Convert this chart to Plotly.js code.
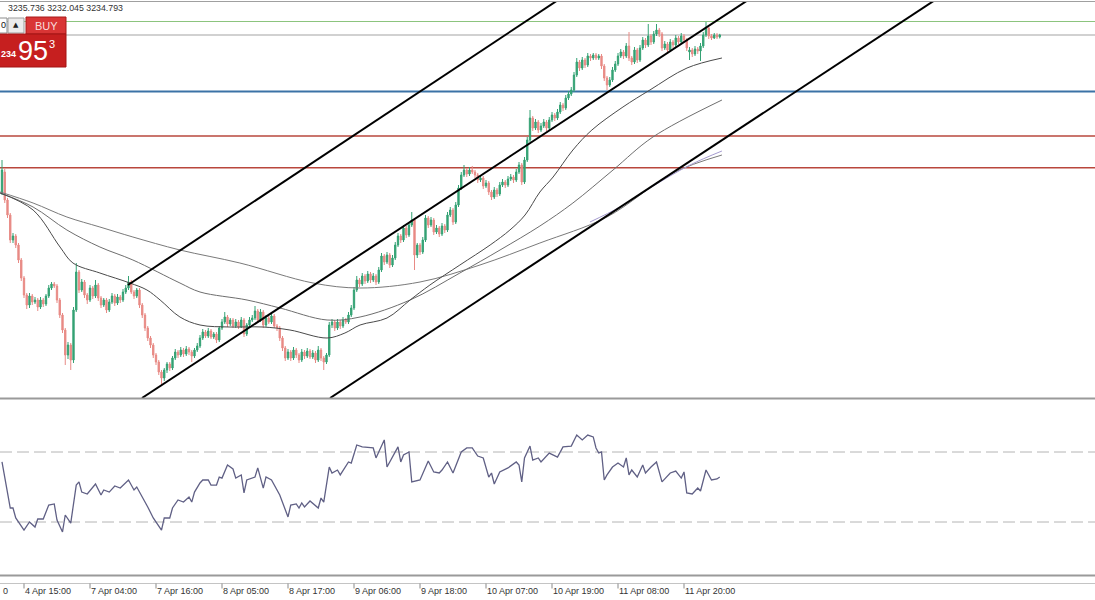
<!DOCTYPE html>
<html>
<head>
<meta charset="utf-8">
<script src="https://cdn.plot.ly/plotly-3.0.1.min.js"></script>
<style>html,body{margin:0;padding:0;background:#fff;}#chart{width:1095px;height:600px;}</style>
</head>
<body>
<div id="chart"></div>
<script>
// ---- DATA (XAUUSD M30, bar index 0..261) ----
const openP = [3108.4,3125.2,3102.8,3090.8,3070.8,3074.0,3066.8,3054.8,3040.4,3026.8,
3018.8,3026.0,3021.2,3022.8,3017.2,3022.8,3019.6,3026.0,3032.4,3035.6,
3034.0,3022.8,3010.8,2998.8,2978.8,2986.8,2974.8,3014.8,3045.2,3030.8,
3037.2,3026.8,3022.8,3032.4,3026.0,3034.8,3024.4,3018.8,3022.8,3014.8,
3021.2,3026.0,3020.4,3025.2,3022.8,3029.2,3032.4,3037.2,3029.2,3026.0,
3030.8,3018.8,3010.8,3000.4,2992.4,2986.8,2978.8,2973.2,2965.2,2960.4,
2966.8,2971.6,2968.4,2976.4,2981.2,2978.8,2982.8,2979.6,2983.6,2981.2,
2978.0,2982.8,2986.0,2992.4,2997.2,2994.0,2998.0,2993.2,2995.6,2990.8,
3000.4,3005.2,3009.2,3003.6,3006.8,3002.0,3005.2,3001.2,3006.8,2995.6,
3002.8,3006.8,3008.4,3014.0,3006.8,3013.2,3002.8,3008.4,3005.2,3010.0,
3002.0,3000.4,2992.4,2984.4,2976.4,2981.2,2976.4,2982.8,2978.8,2974.8,
2981.2,2978.0,2982.0,2977.2,2980.4,2974.8,2982.8,2976.4,2973.2,2978.8,
3002.8,3005.2,3000.4,3005.2,3002.0,3006.8,3005.2,3010.8,3016.4,3030.8,
3038.8,3035.6,3042.0,3038.0,3043.6,3038.8,3042.0,3037.2,3046.8,3058.0,
3053.2,3058.8,3050.8,3056.4,3066.8,3074.0,3070.8,3080.4,3074.8,3082.8,
3086.8,3058.8,3066.8,3061.2,3070.8,3088.4,3082.8,3086.8,3077.2,3080.4,
3075.6,3082.0,3078.8,3090.8,3094.8,3085.2,3098.8,3112.4,3122.8,3126.8,
3123.6,3126.8,3125.2,3122.8,3118.8,3120.4,3114.0,3116.4,3109.2,3105.2,
3110.8,3107.6,3114.8,3117.2,3114.8,3119.6,3121.2,3118.8,3125.2,3130.8,
3117.2,3134.8,3150.8,3168.4,3160.4,3165.2,3158.8,3162.0,3165.2,3160.4,
3166.8,3170.8,3168.4,3173.2,3178.8,3176.4,3184.4,3187.6,3190.8,3202.8,
3213.2,3208.4,3214.8,3210.8,3218.0,3216.4,3218.8,3216.4,3218.0,3210.0,
3200.4,3194.8,3198.8,3206.8,3211.6,3218.0,3221.2,3218.0,3226.0,3216.4,
3213.2,3222.8,3214.8,3224.4,3230.8,3226.8,3234.0,3229.2,3235.6,3238.8,
3235.6,3224.4,3227.6,3222.8,3229.2,3226.8,3232.4,3229.2,3234.0,3230.8,
3221.2,3222.8,3219.6,3223.6,3222.0,3226.0,3234.8,3240.4,3234.0,3232.4,
3234.8,3233.216];
const highP = [3134.8,3127.6,3104.4,3092.4,3076.4,3075.6,3068.4,3056.4,3042.0,3028.4,
3028.4,3027.6,3025.2,3024.4,3025.2,3024.4,3027.6,3034.8,3037.2,3037.2,
3035.6,3024.4,3012.4,3000.4,2989.2,2988.4,3017.2,3052.4,3046.8,3039.6,
3038.8,3028.4,3034.8,3034.0,3038.8,3036.4,3026.0,3024.4,3024.4,3023.6,
3028.4,3027.6,3027.6,3026.8,3031.6,3034.8,3042.0,3038.8,3030.8,3032.4,
3032.4,3020.4,3012.4,3002.0,2994.0,2988.4,2980.4,2974.8,2966.8,2968.4,
2973.2,2973.2,2978.0,2983.6,2982.8,2985.2,2984.4,2986.0,2985.2,2982.8,
2984.4,2988.4,2994.8,2999.6,2998.8,3000.4,2999.6,2997.2,2997.2,3002.0,
3007.6,3013.2,3010.8,3008.4,3008.4,3007.6,3006.8,3009.2,3008.4,3004.4,
3009.2,3010.8,3018.0,3015.6,3015.6,3014.8,3010.8,3010.0,3012.4,3011.6,
3003.6,3002.0,2994.0,2986.0,2983.6,2982.8,2985.2,2984.4,2980.4,2983.6,
2982.8,2984.4,2983.6,2982.8,2982.0,2986.0,2984.4,2978.0,2980.4,3005.2,
3007.6,3006.8,3007.6,3006.8,3009.2,3008.4,3013.2,3018.8,3033.2,3042.0,
3040.4,3044.4,3043.6,3046.0,3045.2,3044.4,3043.6,3049.2,3060.4,3059.6,
3061.2,3060.4,3058.8,3069.2,3076.4,3075.6,3082.8,3082.0,3085.2,3093.2,
3088.4,3068.4,3068.4,3073.2,3090.8,3090.0,3089.2,3088.4,3082.8,3082.0,
3084.4,3083.6,3093.2,3097.2,3096.4,3101.2,3114.8,3125.2,3130.8,3128.4,
3129.2,3130.0,3126.8,3124.4,3122.8,3122.0,3118.8,3118.0,3110.8,3113.2,
3112.4,3117.2,3119.6,3118.8,3122.0,3123.6,3122.8,3127.6,3133.2,3132.4,
3137.2,3153.2,3174.8,3170.0,3167.6,3166.8,3164.4,3167.6,3166.8,3169.2,
3173.2,3172.4,3175.6,3181.2,3180.4,3186.8,3190.0,3193.2,3205.2,3216.4,
3214.8,3217.2,3216.4,3220.4,3219.6,3220.4,3220.4,3219.6,3219.6,3211.6,
3202.0,3201.2,3209.2,3214.0,3220.4,3223.6,3222.8,3228.4,3237.2,3218.0,
3225.2,3224.4,3226.8,3233.2,3232.4,3243.6,3235.6,3238.0,3243.6,3240.4,
3237.2,3230.0,3229.2,3231.6,3230.8,3234.8,3234.0,3236.4,3235.6,3232.4,
3225.2,3224.4,3226.0,3225.2,3228.4,3237.2,3245.2,3241.2,3235.6,3236.4,
3236.4,3235.736];
const lowP = [3106.8,3100.4,3088.4,3068.4,3068.4,3064.4,3052.4,3038.0,3024.4,3015.6,
3016.4,3018.8,3019.6,3014.0,3015.6,3017.2,3018.0,3024.4,3030.8,3032.4,
3020.4,3008.4,2996.4,2970.8,2975.6,2966.8,2972.4,3013.2,3028.4,3029.2,
3024.4,3019.6,3021.2,3023.6,3024.4,3022.0,3016.4,3017.2,3012.4,3013.2,
3019.6,3018.0,3018.8,3020.4,3021.2,3027.6,3030.8,3027.6,3023.6,3024.4,
3016.4,3008.4,2998.0,2990.0,2984.4,2976.4,2970.8,2962.8,2954.8,2958.0,
2964.4,2966.0,2966.8,2974.8,2976.4,2977.2,2977.2,2978.0,2978.8,2973.2,
2976.4,2981.2,2984.4,2990.8,2992.4,2992.4,2991.6,2991.6,2988.4,2989.2,
2998.8,3003.6,3001.2,3002.0,3000.4,3000.4,2999.6,3000.4,2993.2,2994.0,
3001.2,3005.2,3006.8,3004.4,3005.2,3000.4,3001.2,3003.6,3003.6,3000.4,
2998.0,2990.0,2982.0,2974.0,2974.8,2974.0,2974.8,2976.4,2972.4,2973.2,
2975.6,2976.4,2975.6,2975.6,2972.4,2973.2,2974.0,2966.8,2971.6,2977.2,
3000.4,2998.0,2998.8,2999.6,3000.4,3003.6,3003.6,3009.2,3014.8,3029.2,
3033.2,3034.0,3035.6,3036.4,3036.4,3037.2,3034.8,3035.6,3045.2,3050.8,
3051.6,3048.4,3049.2,3054.8,3065.2,3068.4,3069.2,3072.4,3073.2,3081.2,
3046.8,3056.4,3058.8,3059.6,3069.2,3080.4,3081.2,3074.8,3075.6,3073.2,
3074.0,3076.4,3077.2,3089.2,3082.8,3083.6,3097.2,3110.8,3121.2,3121.2,
3122.0,3123.6,3120.4,3116.4,3117.2,3111.6,3112.4,3106.8,3102.8,3103.6,
3105.2,3106.0,3113.2,3112.4,3113.2,3118.0,3116.4,3117.2,3123.6,3114.8,
3115.6,3133.2,3149.2,3158.0,3158.8,3156.4,3157.2,3160.4,3158.0,3158.8,
3165.2,3166.0,3166.8,3171.6,3174.0,3174.8,3182.8,3186.0,3189.2,3201.2,
3206.0,3206.8,3208.4,3209.2,3214.0,3214.8,3214.8,3214.8,3207.6,3198.0,
3190.8,3193.2,3197.2,3205.2,3210.0,3216.4,3215.6,3216.4,3214.0,3210.8,
3211.6,3212.4,3213.2,3222.8,3224.4,3225.2,3226.8,3227.6,3234.0,3233.2,
3222.0,3222.8,3220.4,3221.2,3224.4,3225.2,3227.6,3227.6,3229.2,3222.0,
3214.8,3217.2,3218.0,3219.6,3214.0,3224.4,3233.2,3231.6,3230.8,3231.6,
3231.6,3232.045];
const closeP = [3126.8,3102.8,3090.8,3070.8,3074.0,3066.8,3054.8,3040.4,3026.8,3018.8,
3026.0,3021.2,3022.8,3017.2,3022.8,3019.6,3026.0,3032.4,3035.6,3034.0,
3022.8,3010.8,2998.8,2978.8,2986.8,2974.8,3014.8,3045.2,3030.8,3037.2,
3026.8,3022.8,3032.4,3026.0,3034.8,3024.4,3018.8,3022.8,3014.8,3021.2,
3026.0,3020.4,3025.2,3022.8,3029.2,3032.4,3037.2,3029.2,3026.0,3030.8,
3018.8,3010.8,3000.4,2992.4,2986.8,2978.8,2973.2,2965.2,2960.4,2966.8,
2971.6,2968.4,2976.4,2981.2,2978.8,2982.8,2979.6,2983.6,2981.2,2978.0,
2982.8,2986.0,2992.4,2997.2,2994.0,2998.0,2993.2,2995.6,2990.8,3000.4,
3005.2,3009.2,3003.6,3006.8,3002.0,3005.2,3001.2,3006.8,2995.6,3002.8,
3006.8,3008.4,3014.0,3006.8,3013.2,3002.8,3008.4,3005.2,3010.0,3002.0,
3000.4,2992.4,2984.4,2976.4,2981.2,2976.4,2982.8,2978.8,2974.8,2981.2,
2978.0,2982.0,2977.2,2980.4,2974.8,2982.8,2976.4,2973.2,2978.8,3002.8,
3005.2,3000.4,3005.2,3002.0,3006.8,3005.2,3010.8,3016.4,3030.8,3038.8,
3035.6,3042.0,3038.0,3043.6,3038.8,3042.0,3037.2,3046.8,3058.0,3053.2,
3058.8,3050.8,3056.4,3066.8,3074.0,3070.8,3080.4,3074.8,3082.8,3086.8,
3058.8,3066.8,3061.2,3070.8,3088.4,3082.8,3086.8,3077.2,3080.4,3075.6,
3082.0,3078.8,3090.8,3094.8,3085.2,3098.8,3112.4,3122.8,3126.8,3123.6,
3126.8,3125.2,3122.8,3118.8,3120.4,3114.0,3116.4,3109.2,3105.2,3110.8,
3107.6,3114.8,3117.2,3114.8,3119.6,3121.2,3118.8,3125.2,3130.8,3117.2,
3134.8,3150.8,3168.4,3160.4,3165.2,3158.8,3162.0,3165.2,3160.4,3166.8,
3170.8,3168.4,3173.2,3178.8,3176.4,3184.4,3187.6,3190.8,3202.8,3213.2,
3208.4,3214.8,3210.8,3218.0,3216.4,3218.8,3216.4,3218.0,3210.0,3200.4,
3194.8,3198.8,3206.8,3211.6,3218.0,3221.2,3218.0,3226.0,3216.4,3213.2,
3222.8,3214.8,3224.4,3230.8,3226.8,3234.0,3229.2,3235.6,3238.8,3235.6,
3224.4,3227.6,3222.8,3229.2,3226.8,3232.4,3229.2,3234.0,3230.8,3224.4,
3222.8,3219.6,3223.6,3222.0,3226.0,3234.8,3240.4,3234.0,3232.4,3234.8,
3233.2,3234.793];

// Moving averages read at sparse points (bar index, price)
const maFastX = [-0.7,11.3,21.1,25.8,35.6,46.5,52.7,57.5,64.7,72.0,82.9,94.9,104.7,118.2,124.7,130.2,140.0,148.4,155.6,166.5,177.5,184.7,190.2,195.6,200.4,207.6,214.5,225.8,235.6,249.1,261.8];
const maFastY = [3108.4,3094.8,3065.2,3052.4,3044.4,3036.4,3030.8,3022.8,3009.2,3002.8,3001.2,3001.2,2998.8,2992.4,2996.4,3002.8,3008.4,3022.8,3034.8,3050.8,3066.8,3078.8,3090.8,3109.2,3121.2,3142.8,3158.8,3177.2,3190.8,3208.4,3216.4];
const maMidX = [-0.7,11.3,23.6,35.6,47.6,64.7,72.0,89.1,101.1,118.2,130.2,148.4,166.5,181.1,195.6,207.6,222.2,236.7,261.8];
const maMidY = [3108.4,3097.2,3078.8,3065.2,3054.8,3036.4,3029.2,3022.8,3016.4,3006.8,3009.2,3022.8,3044.4,3062.8,3082.0,3100.4,3126.8,3153.2,3182.8];
const maSlowX = [-0.7,11.3,23.6,35.6,47.6,64.7,86.5,113.1,130.2,152.0,173.8,195.6,220.0,244.0,261.8];
const maSlowY = [3109.2,3100.4,3089.2,3081.2,3073.2,3062.8,3052.4,3036.4,3032.4,3037.2,3050.8,3068.4,3089.2,3124.4,3138.8];
const maExtraX = [213.8,224.7,235.6,250.2,261.8];
const maExtraY = [3085.2,3097.2,3112.4,3130.8,3142.0];

// Channel lines (anchor points: bar index, price)
const channelX = [[45.8,202.2],[50.9,271.3],[119.3,339.3]];
const channelY = [[3034.8,3262.8],[2944.4,3262.8],[2944.4,3262.8]];

// Horizontal levels
const levelPrices = [3245.6, 3234.793, 3189.6, 3154.0, 3128.6];
const levelColors = ['#8cc47e','#a3a3a3','#3b72a6','#b9473c','#b9473c'];
const levelWidths = [1.2, 1, 2, 1.6, 1.6];

// RSI (bar index, value)
const rsiX = [0,1,3,4,5,8,10,12,13,15,17,19,20,22,23,25,27,28,29,31,34,36,37,39,41,43,46,48,49,53,55,58,59,61,62,64,66,68,69,70,72,73,75,76,78,79,80,82,84,85,87,88,89,92,93,95,96,98,99,101,104,105,107,108,109,110,112,115,116,117,119,120,122,123,126,127,129,131,135,136,139,140,144,145,146,148,149,152,155,157,159,160,162,164,167,169,171,173,175,177,178,179,181,184,187,188,189,190,192,193,195,196,199,202,204,207,209,211,213,215,216,217,218,219,220,222,224,226,227,228,229,231,233,234,236,238,240,243,245,247,248,249,251,253,254,256,258,260,261];
const rsiY = [64.3,55.1,38.0,38.0,32.3,25.4,30.0,27.1,31.7,31.7,39.7,40.3,31.1,24.3,34.0,29.4,51.1,52.9,47.1,46.0,51.7,45.4,48.3,47.1,50.6,49.4,54.0,48.3,50.0,38.6,32.3,25.4,32.3,32.3,38.0,42.6,41.4,44.3,41.4,47.1,52.3,54.0,54.0,51.1,51.1,55.7,55.1,62.6,60.3,55.1,56.9,46.6,54.0,55.7,60.9,49.4,55.7,54.0,51.1,45.4,32.9,39.7,40.3,38.0,40.9,38.6,42.0,38.0,43.7,41.4,61.4,58.0,59.7,56.9,64.3,63.7,74.0,72.9,72.3,66.6,76.9,61.4,72.9,64.3,68.3,70.0,52.9,54.0,64.9,58.6,58.0,59.7,64.3,58.0,70.0,72.3,72.3,67.7,66.6,55.7,58.0,51.7,58.6,60.9,64.3,62.6,52.9,66.6,73.4,65.4,66.6,64.3,69.4,67.1,72.9,73.4,79.7,76.9,79.7,78.6,72.3,69.4,70.0,54.0,56.9,61.4,63.7,61.4,66.6,56.9,59.7,55.7,62.6,58.0,61.4,64.3,52.9,58.0,59.1,55.1,58.6,46.6,46.0,49.4,47.7,59.7,54.0,54.6,55.7];
const rsiLevels = [70, 30];

// Time axis labels (bar index of tick); the first one is only visible as its last character
const tickBars = [8,32,56,80,104,128,152,176,200,224,248];
const tickLabels = ['4 Apr 15:00','7 Apr 04:00','7 Apr 16:00','8 Apr 05:00','8 Apr 17:00','9 Apr 06:00','9 Apr 18:00','10 Apr 07:00','10 Apr 19:00','11 Apr 08:00','11 Apr 20:00'];
const edgeLabel = '0';

const headerText = '3235.736 3232.045 3234.793';

// ---- LAYOUT HELPERS ----
const W = 1095, H = 600;
const BAR0 = 2, BARW = 2.75;
const PX = x => x / W;
const PY = y => 1 - y / H;
const barPx = b => BAR0 + BARW * b;

const idx = closeP.map((_, i) => i);

const traces = [];
traces.push({
  type: 'candlestick', x: idx, open: openP, high: highP, low: lowP, close: closeP,
  xaxis: 'x', yaxis: 'y',
  increasing: {line: {color: '#34a274', width: 1}, fillcolor: '#34a274'},
  decreasing: {line: {color: '#e88a85', width: 1}, fillcolor: '#e88a85'},
  whiskerwidth: 0, hoverinfo: 'skip', showlegend: false
});
const maLine = (xs, ys, color, w) => ({type: 'scatter', mode: 'lines', x: xs, y: ys, xaxis: 'x', yaxis: 'y',
  line: {color: color, width: w, shape: 'spline', smoothing: 1}, hoverinfo: 'skip', showlegend: false});
traces.push(maLine(maSlowX, maSlowY, '#7a7a7a', 1));
traces.push(maLine(maExtraX, maExtraY, '#a59bd0', 1));
traces.push(maLine(maMidX, maMidY, '#6e6e6e', 1));
traces.push(maLine(maFastX, maFastY, '#4a4a4a', 1));
channelX.forEach((cx, k) => {
  traces.push({type: 'scatter', mode: 'lines', x: cx, y: channelY[k], xaxis: 'x', yaxis: 'y',
    line: {color: '#000000', width: 2}, hoverinfo: 'skip', showlegend: false});
});
traces.push({type: 'scatter', mode: 'lines', x: rsiX, y: rsiY, xaxis: 'x', yaxis: 'y2',
  line: {color: '#606085', width: 1.3}, hoverinfo: 'skip', showlegend: false});

const shapes = [];
// frame lines
shapes.push({type: 'line', xref: 'paper', yref: 'paper', x0: 0, x1: 1, y0: PY(1.5), y1: PY(1.5), line: {color: '#a0a0a0', width: 1}});
shapes.push({type: 'line', xref: 'paper', yref: 'paper', x0: 0, x1: 1, y0: PY(398.5), y1: PY(398.5), line: {color: '#9a9a9a', width: 2}});
shapes.push({type: 'line', xref: 'paper', yref: 'paper', x0: 0, x1: 1, y0: PY(575.5), y1: PY(575.5), line: {color: '#9a9a9a', width: 2}});
shapes.push({type: 'line', xref: 'paper', yref: 'paper', x0: 0, x1: 1, y0: PY(583.5), y1: PY(583.5), line: {color: '#c4c4c4', width: 1}});
// horizontal levels
levelPrices.forEach((p, k) => {
  shapes.push({type: 'line', xref: 'paper', yref: 'y', x0: 0, x1: 1, y0: p, y1: p, layer: 'below',
    line: {color: levelColors[k], width: levelWidths[k]}});
});
// RSI levels
rsiLevels.forEach(v => {
  shapes.push({type: 'line', xref: 'paper', yref: 'y2', x0: 0, x1: 1, y0: v, y1: v, layer: 'below',
    line: {color: '#b4b4b4', width: 1, dash: '12px,5px'}});
});
// time ticks
tickBars.forEach(b => {
  shapes.push({type: 'line', xref: 'paper', yref: 'paper', x0: PX(barPx(b)), x1: PX(barPx(b)), y0: PY(583.5), y1: PY(588.5),
    line: {color: '#8a8a8a', width: 1}});
});
// one-click trading panel
shapes.push({type: 'rect', xref: 'paper', yref: 'paper', x0: PX(-6), x1: PX(7), y0: PY(33), y1: PY(18), fillcolor: '#ffffff', line: {color: '#8c8c8c', width: 1}});
shapes.push({type: 'rect', xref: 'paper', yref: 'paper', x0: PX(8), x1: PX(24), y0: PY(33), y1: PY(18), fillcolor: '#ececec', line: {color: '#9c9c9c', width: 1}});
shapes.push({type: 'rect', xref: 'paper', yref: 'paper', x0: PX(26), x1: PX(66), y0: PY(34), y1: PY(17), fillcolor: '#d93535', line: {color: '#a81a1a', width: 1}});
shapes.push({type: 'rect', xref: 'paper', yref: 'paper', x0: PX(-2), x1: PX(66), y0: PY(67), y1: PY(34), fillcolor: '#c61f1f', line: {color: '#a31414', width: 1}});

const annotations = [];
annotations.push({xref: 'paper', yref: 'paper', x: PX(6), y: PY(8), xanchor: 'left', yanchor: 'middle', showarrow: false,
  text: headerText, font: {family: 'Liberation Sans, Arial, sans-serif', size: 8.8, color: '#333333'}});
tickBars.forEach((b, k) => {
  annotations.push({xref: 'paper', yref: 'paper', x: PX(barPx(b) - 1), y: PY(591), xanchor: 'left', yanchor: 'middle', showarrow: false,
    text: tickLabels[k], font: {family: 'Liberation Sans, Arial, sans-serif', size: 9, color: '#333333'}});
});
annotations.push({xref: 'paper', yref: 'paper', x: PX(0.5), y: PY(591), xanchor: 'left', yanchor: 'middle', showarrow: false,
  text: edgeLabel, font: {family: 'Liberation Sans, Arial, sans-serif', size: 9, color: '#333333'}});
annotations.push({xref: 'paper', yref: 'paper', x: PX(3), y: PY(25.5), xanchor: 'center', yanchor: 'middle', showarrow: false,
  text: '0', font: {family: 'Liberation Sans, Arial, sans-serif', size: 9, color: '#111111'}});
annotations.push({xref: 'paper', yref: 'paper', x: PX(16), y: PY(25), xanchor: 'center', yanchor: 'middle', showarrow: false,
  text: '▲', font: {family: 'DejaVu Sans, sans-serif', size: 7, color: '#222222'}});
annotations.push({xref: 'paper', yref: 'paper', x: PX(46), y: PY(26), xanchor: 'center', yanchor: 'middle', showarrow: false,
  text: 'BUY', font: {family: 'Liberation Sans, Arial, sans-serif', size: 11, color: '#f8dede'}});
annotations.push({xref: 'paper', yref: 'paper', x: PX(17.5), y: PY(54), xanchor: 'right', yanchor: 'middle', showarrow: false,
  text: '<b>234</b>', font: {family: 'Liberation Sans, Arial, sans-serif', size: 9, color: '#ffffff'}});
annotations.push({xref: 'paper', yref: 'paper', x: PX(33), y: PY(51), xanchor: 'center', yanchor: 'middle', showarrow: false,
  text: '95', font: {family: 'Liberation Sans, Arial, sans-serif', size: 27, color: '#ffffff'}});
annotations.push({xref: 'paper', yref: 'paper', x: PX(52), y: PY(44), xanchor: 'center', yanchor: 'middle', showarrow: false,
  text: '3', font: {family: 'Liberation Sans, Arial, sans-serif', size: 11, color: '#ffffff'}});

const layout = {
  width: W, height: H,
  margin: {l: 0, r: 0, t: 0, b: 0, pad: 0},
  paper_bgcolor: '#ffffff', plot_bgcolor: '#ffffff',
  showlegend: false,
  xaxis: {range: [-BAR0 / BARW, (W - BAR0) / BARW], visible: false, fixedrange: true, rangeslider: {visible: false}},
  yaxis: {domain: [PY(398), PY(2)], range: [2944.4, 3261.2], visible: false, fixedrange: true},
  yaxis2: {domain: [PY(574.5), PY(399.5)], range: [0, 100], visible: false, fixedrange: true},
  shapes: shapes,
  annotations: annotations
};

Plotly.newPlot('chart', traces, layout, {staticPlot: true, displayModeBar: false});
</script>
</body>
</html>
